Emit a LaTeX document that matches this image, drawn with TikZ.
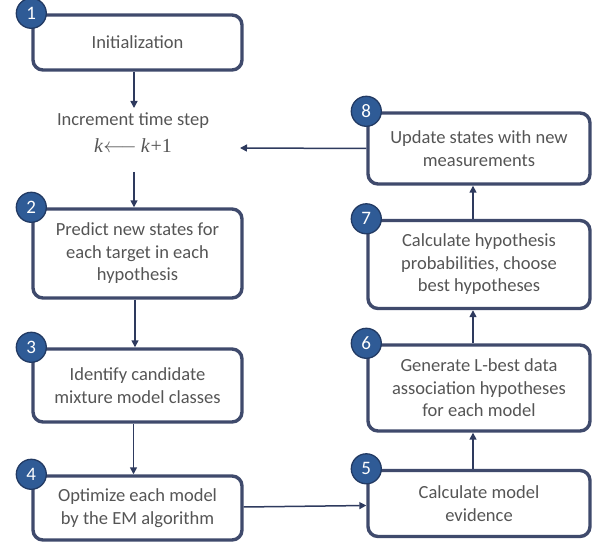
\documentclass[tikz,border=0pt]{standalone}
\usepackage{fontspec}
\setmainfont{Carlito}
\newfontfamily\serf{Liberation Serif}
\usetikzlibrary{arrows.meta}
\definecolor{boxline}{HTML}{3F4A6C}
\definecolor{txt}{HTML}{555555}
\definecolor{numfill}{HTML}{2F5B96}
\definecolor{numline}{HTML}{223A63}
\definecolor{arrcol}{HTML}{2E3A5E}
\begin{document}
\begin{tikzpicture}[x=1pt,y=-1pt,
  stepbox/.style={draw=boxline, line width=3.4pt, rounded corners=10pt, fill=white,
     align=center, text=txt, font=\fontsize{18.5}{22.5}\selectfont, inner sep=0pt},
  leftbox/.style={stepbox, minimum width=209pt},
  rightbox/.style={stepbox, minimum width=222pt},
  num/.style={circle, fill=numfill, draw=numline, line width=1.3pt, minimum size=30pt,
     inner sep=0pt, text=white, font=\fontsize{19}{19}\selectfont},
  arr/.style={draw=arrcol, line width=1.5pt, -{Triangle[length=7pt,width=7pt]}},
  plain/.style={text=txt, font=\fontsize{18.5}{22.5}\selectfont, inner sep=0pt}
]
\useasboundingbox (0,0) rectangle (598,548);

% left column
\node[leftbox, minimum height=55pt] (box1) at (137.5,42.5) {Initialization};
\node[leftbox, minimum height=89pt] (box2) at (137.5,253.5) {Predict new states for\\each target in each\\hypothesis};
\node[leftbox, minimum height=73pt] (box3) at (137.5,385.5) {Identify candidate\\mixture model classes};
\node[leftbox, minimum height=64pt] (box4) at (137.5,508) {Optimize each model\\by the EM algorithm};

% right column
\node[rightbox, minimum height=71pt] (box8) at (479,148.5) {Update states with new\\measurements};
\node[rightbox, minimum height=88pt] (box7) at (479,264.5) {Calculate hypothesis\\probabilities, choose\\best hypotheses};
\node[rightbox, minimum height=86pt] (box6) at (479,388) {Generate L-best data\\association hypotheses\\for each model};
\node[rightbox, minimum height=66pt] (box5) at (479,503.5) {Calculate model\\evidence};

% increment text
\node[plain] (inc) at (133,121) {Increment time step};
\node[plain, font=\fontsize{20}{20}\selectfont] (kk) at (133,146)
  {{\serf\itshape k}\kern0.5pt$\longleftarrow$\kern4pt{\serf\itshape k}\kern1pt{\serf +1}};
\coordinate (inTop) at (134,108);
\coordinate (inBot) at (134,172);
\coordinate (loopEnd) at (240,148);

% number badges
\node[num] (n1) at (box1.north west) {1};
\node[num] (n2) at (box2.north west) {2};
\node[num] (n3) at (box3.north west) {3};
\node[num] (n4) at (box4.north west) {4};
\node[num] (n5) at (box5.north west) {5};
\node[num] (n6) at (box6.north west) {6};
\node[num] (n7) at (box7.north west) {7};
\node[num] (n8) at (box8.north west) {8};

% connectors
\draw[arr] ([xshift=-3.5pt]box1.south) -- (inTop);
\draw[arr] (inBot) -- ([xshift=-3.5pt]box2.north);
\draw[arr] ([xshift=-2.5pt]box2.south) -- ([xshift=-2.5pt]box3.north);
\draw[arr] ([xshift=-4pt]box3.south) -- ([xshift=-4pt]box4.north);
\draw[arr] ([yshift=1pt]box4.east) -- ([yshift=-2pt]box5.west);
\draw[arr] ([xshift=-6pt]box5.north) -- ([xshift=-6pt]box6.south);
\draw[arr] ([xshift=-6pt]box6.north) -- ([xshift=-6pt]box7.south);
\draw[arr] ([xshift=-6pt]box7.north) -- ([xshift=-6pt]box8.south);
\draw[arr] (box8.west) -- (loopEnd);
\end{tikzpicture}
\end{document}
